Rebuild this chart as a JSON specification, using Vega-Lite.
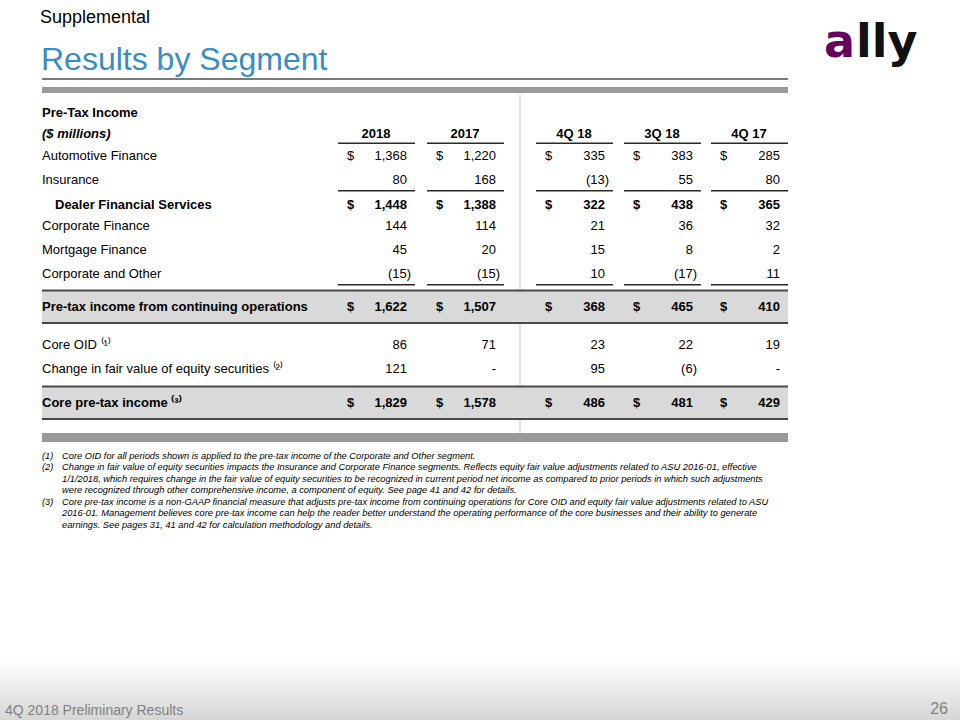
{
  "$schema": "https://vega.github.io/schema/vega-lite/v6.json",
  "width": 960,
  "height": 720,
  "padding": 0,
  "autosize": {"type": "none"},
  "background": "#ffffff",
  "config": {
    "view": {"stroke": null},
    "axis": {"disable": true},
    "text": {"font": "Liberation Sans", "baseline": "alphabetic", "color": "#000000"}
  },
  "datasets": {
    "rows": [
      {"line": 0, "label": "Pre-Tax Income", "kind": "heading"},
      {"line": 1, "label": "($ millions)", "kind": "unit"},
      {"line": 2, "label": "Automotive Finance", "kind": "item"},
      {"line": 3, "label": "Insurance", "kind": "item"},
      {"line": 4, "label": "Dealer Financial Services", "kind": "subtotal"},
      {"line": 5, "label": "Corporate Finance", "kind": "item"},
      {"line": 6, "label": "Mortgage Finance", "kind": "item"},
      {"line": 7, "label": "Corporate and Other", "kind": "item"},
      {"line": 8, "label": "Pre-tax income from continuing operations", "kind": "total"},
      {"line": 9, "label": "Core OID ⁽¹⁾", "kind": "item"},
      {"line": 10, "label": "Change in fair value of equity securities ⁽²⁾", "kind": "item"},
      {"line": 11, "label": "Core pre-tax income ⁽³⁾", "kind": "total"}
    ],
    "cells": [
      {"line": 2, "row": "Automotive Finance", "period": "2018", "col": 1, "amount": 1368, "currency": "$", "kind": "item"},
      {"line": 2, "row": "Automotive Finance", "period": "2017", "col": 2, "amount": 1220, "currency": "$", "kind": "item"},
      {"line": 2, "row": "Automotive Finance", "period": "4Q 18", "col": 3, "amount": 335, "currency": "$", "kind": "item"},
      {"line": 2, "row": "Automotive Finance", "period": "3Q 18", "col": 4, "amount": 383, "currency": "$", "kind": "item"},
      {"line": 2, "row": "Automotive Finance", "period": "4Q 17", "col": 5, "amount": 285, "currency": "$", "kind": "item"},
      {"line": 3, "row": "Insurance", "period": "2018", "col": 1, "amount": 80, "kind": "item"},
      {"line": 3, "row": "Insurance", "period": "2017", "col": 2, "amount": 168, "kind": "item"},
      {"line": 3, "row": "Insurance", "period": "4Q 18", "col": 3, "amount": -13, "kind": "item"},
      {"line": 3, "row": "Insurance", "period": "3Q 18", "col": 4, "amount": 55, "kind": "item"},
      {"line": 3, "row": "Insurance", "period": "4Q 17", "col": 5, "amount": 80, "kind": "item"},
      {"line": 4, "row": "Dealer Financial Services", "period": "2018", "col": 1, "amount": 1448, "currency": "$", "kind": "subtotal"},
      {"line": 4, "row": "Dealer Financial Services", "period": "2017", "col": 2, "amount": 1388, "currency": "$", "kind": "subtotal"},
      {"line": 4, "row": "Dealer Financial Services", "period": "4Q 18", "col": 3, "amount": 322, "currency": "$", "kind": "subtotal"},
      {"line": 4, "row": "Dealer Financial Services", "period": "3Q 18", "col": 4, "amount": 438, "currency": "$", "kind": "subtotal"},
      {"line": 4, "row": "Dealer Financial Services", "period": "4Q 17", "col": 5, "amount": 365, "currency": "$", "kind": "subtotal"},
      {"line": 5, "row": "Corporate Finance", "period": "2018", "col": 1, "amount": 144, "kind": "item"},
      {"line": 5, "row": "Corporate Finance", "period": "2017", "col": 2, "amount": 114, "kind": "item"},
      {"line": 5, "row": "Corporate Finance", "period": "4Q 18", "col": 3, "amount": 21, "kind": "item"},
      {"line": 5, "row": "Corporate Finance", "period": "3Q 18", "col": 4, "amount": 36, "kind": "item"},
      {"line": 5, "row": "Corporate Finance", "period": "4Q 17", "col": 5, "amount": 32, "kind": "item"},
      {"line": 6, "row": "Mortgage Finance", "period": "2018", "col": 1, "amount": 45, "kind": "item"},
      {"line": 6, "row": "Mortgage Finance", "period": "2017", "col": 2, "amount": 20, "kind": "item"},
      {"line": 6, "row": "Mortgage Finance", "period": "4Q 18", "col": 3, "amount": 15, "kind": "item"},
      {"line": 6, "row": "Mortgage Finance", "period": "3Q 18", "col": 4, "amount": 8, "kind": "item"},
      {"line": 6, "row": "Mortgage Finance", "period": "4Q 17", "col": 5, "amount": 2, "kind": "item"},
      {"line": 7, "row": "Corporate and Other", "period": "2018", "col": 1, "amount": -15, "kind": "item"},
      {"line": 7, "row": "Corporate and Other", "period": "2017", "col": 2, "amount": -15, "kind": "item"},
      {"line": 7, "row": "Corporate and Other", "period": "4Q 18", "col": 3, "amount": 10, "kind": "item"},
      {"line": 7, "row": "Corporate and Other", "period": "3Q 18", "col": 4, "amount": -17, "kind": "item"},
      {"line": 7, "row": "Corporate and Other", "period": "4Q 17", "col": 5, "amount": 11, "kind": "item"},
      {"line": 8, "row": "Pre-tax income from continuing operations", "period": "2018", "col": 1, "amount": 1622, "currency": "$", "kind": "total"},
      {"line": 8, "row": "Pre-tax income from continuing operations", "period": "2017", "col": 2, "amount": 1507, "currency": "$", "kind": "total"},
      {"line": 8, "row": "Pre-tax income from continuing operations", "period": "4Q 18", "col": 3, "amount": 368, "currency": "$", "kind": "total"},
      {"line": 8, "row": "Pre-tax income from continuing operations", "period": "3Q 18", "col": 4, "amount": 465, "currency": "$", "kind": "total"},
      {"line": 8, "row": "Pre-tax income from continuing operations", "period": "4Q 17", "col": 5, "amount": 410, "currency": "$", "kind": "total"},
      {"line": 9, "row": "Core OID", "period": "2018", "col": 1, "amount": 86, "kind": "item"},
      {"line": 9, "row": "Core OID", "period": "2017", "col": 2, "amount": 71, "kind": "item"},
      {"line": 9, "row": "Core OID", "period": "4Q 18", "col": 3, "amount": 23, "kind": "item"},
      {"line": 9, "row": "Core OID", "period": "3Q 18", "col": 4, "amount": 22, "kind": "item"},
      {"line": 9, "row": "Core OID", "period": "4Q 17", "col": 5, "amount": 19, "kind": "item"},
      {"line": 10, "row": "Change in fair value of equity securities", "period": "2018", "col": 1, "amount": 121, "kind": "item"},
      {"line": 10, "row": "Change in fair value of equity securities", "period": "2017", "col": 2, "amount": 0, "kind": "item"},
      {"line": 10, "row": "Change in fair value of equity securities", "period": "4Q 18", "col": 3, "amount": 95, "kind": "item"},
      {"line": 10, "row": "Change in fair value of equity securities", "period": "3Q 18", "col": 4, "amount": -6, "kind": "item"},
      {"line": 10, "row": "Change in fair value of equity securities", "period": "4Q 17", "col": 5, "amount": 0, "kind": "item"},
      {"line": 11, "row": "Core pre-tax income", "period": "2018", "col": 1, "amount": 1829, "currency": "$", "kind": "total"},
      {"line": 11, "row": "Core pre-tax income", "period": "2017", "col": 2, "amount": 1578, "currency": "$", "kind": "total"},
      {"line": 11, "row": "Core pre-tax income", "period": "4Q 18", "col": 3, "amount": 486, "currency": "$", "kind": "total"},
      {"line": 11, "row": "Core pre-tax income", "period": "3Q 18", "col": 4, "amount": 481, "currency": "$", "kind": "total"},
      {"line": 11, "row": "Core pre-tax income", "period": "4Q 17", "col": 5, "amount": 429, "currency": "$", "kind": "total"}
    ],
    "notes": [
      {"line": 12, "marker": "(1)", "text": "Core OID for all periods shown is applied to the pre-tax income of the Corporate and Other segment."},
      {"line": 13, "marker": "(2)", "text": "Change in fair value of equity securities impacts the Insurance and Corporate Finance segments. Reflects equity fair value adjustments related to ASU 2016-01, effective"},
      {"line": 14, "marker": "", "text": "1/1/2018, which requires change in the fair value of equity securities to be recognized in current period net income as compared to prior periods in which such adjustments"},
      {"line": 15, "marker": "", "text": "were recognized through other comprehensive income, a component of equity. See page 41 and 42 for details."},
      {"line": 16, "marker": "(3)", "text": "Core pre-tax income is a non-GAAP financial measure that adjusts pre-tax income from continuing operations for Core OID and equity fair value adjustments related to ASU"},
      {"line": 17, "marker": "", "text": "2016-01. Management believes core pre-tax income can help the reader better understand the operating performance of the core businesses and their ability to generate"},
      {"line": 18, "marker": "", "text": "earnings. See pages 31, 41 and 42 for calculation methodology and details."}
    ]
  },
  "layer": [
    {
      "data": {"values": [{}]},
      "mark": {"type": "rect", "fill": {"gradient": "linear", "x1": 0, "y1": 0, "x2": 0, "y2": 1, "stops": [{"offset": 0, "color": "#ffffff"}, {"offset": 1, "color": "#d6d6d6"}]}},
      "encoding": {
        "x": {"datum": -2, "type": "quantitative", "scale": {"domain": [-2,-1,0,1,2,3,4,5,6,7], "range": [0,5,42,407,496,605,693,780,948,960], "nice": false, "zero": false}},
        "x2": {"datum": 7},
        "y": {"datum": 19, "type": "quantitative", "scale": {"domain": [-4,-3,-2,-1,0,1,2,3,4,5,6,7,8,9,10,11,12,13,14,15,16,17,18,19,20,21], "range": [0,23,57,70,117,138,160,184,209,230,254,278,311,349,373,407,458.5,470,481.5,493,504.5,516,527.5,660,715,720], "nice": false, "zero": false}},
        "y2": {"datum": 21}
      }
    },
    {
      "data": {"values": [{}]},
      "mark": {"type": "rect", "color": "#e2e2e2", "xOffset": 23, "x2Offset": 25, "yOffset": -22, "y2Offset": 26},
      "encoding": {
        "x": {"datum": 2, "type": "quantitative", "scale": {"domain": [-2,-1,0,1,2,3,4,5,6,7], "range": [0,5,42,407,496,605,693,780,948,960], "nice": false, "zero": false}},
        "x2": {"datum": 2},
        "y": {"datum": 0, "type": "quantitative", "scale": {"domain": [-4,-3,-2,-1,0,1,2,3,4,5,6,7,8,9,10,11,12,13,14,15,16,17,18,19,20,21], "range": [0,23,57,70,117,138,160,184,209,230,254,278,311,349,373,407,458.5,470,481.5,493,504.5,516,527.5,660,715,720], "nice": false, "zero": false}},
        "y2": {"datum": 11}
      }
    },
    {
      "data": {"name": "rows"},
      "transform": [{"filter": "datum.kind === 'total'"}],
      "mark": {"type": "rect", "color": "#d9d9d9", "x2Offset": 8, "yOffset": -21, "y2Offset": 12},
      "encoding": {
        "x": {"datum": 0, "type": "quantitative", "scale": {"domain": [-2,-1,0,1,2,3,4,5,6,7], "range": [0,5,42,407,496,605,693,780,948,960], "nice": false, "zero": false}},
        "x2": {"datum": 5},
        "y": {"field": "line", "type": "quantitative", "scale": {"domain": [-4,-3,-2,-1,0,1,2,3,4,5,6,7,8,9,10,11,12,13,14,15,16,17,18,19,20,21], "range": [0,23,57,70,117,138,160,184,209,230,254,278,311,349,373,407,458.5,470,481.5,493,504.5,516,527.5,660,715,720], "nice": false, "zero": false}},
        "y2": {"field": "line"}
      }
    },
    {
      "data": {"name": "rows"},
      "transform": [{"filter": "datum.kind === 'total'"}],
      "mark": {"type": "rect", "color": "#4a4a4a", "x2Offset": 8, "yOffset": -21.5, "y2Offset": -19.5},
      "encoding": {
        "x": {"datum": 0, "type": "quantitative", "scale": {"domain": [-2,-1,0,1,2,3,4,5,6,7], "range": [0,5,42,407,496,605,693,780,948,960], "nice": false, "zero": false}},
        "x2": {"datum": 5},
        "y": {"field": "line", "type": "quantitative", "scale": {"domain": [-4,-3,-2,-1,0,1,2,3,4,5,6,7,8,9,10,11,12,13,14,15,16,17,18,19,20,21], "range": [0,23,57,70,117,138,160,184,209,230,254,278,311,349,373,407,458.5,470,481.5,493,504.5,516,527.5,660,715,720], "nice": false, "zero": false}},
        "y2": {"field": "line"}
      }
    },
    {
      "data": {"name": "rows"},
      "transform": [{"filter": "datum.kind === 'total'"}],
      "mark": {"type": "rect", "color": "#4a4a4a", "x2Offset": 8, "yOffset": 11, "y2Offset": 13},
      "encoding": {
        "x": {"datum": 0, "type": "quantitative", "scale": {"domain": [-2,-1,0,1,2,3,4,5,6,7], "range": [0,5,42,407,496,605,693,780,948,960], "nice": false, "zero": false}},
        "x2": {"datum": 5},
        "y": {"field": "line", "type": "quantitative", "scale": {"domain": [-4,-3,-2,-1,0,1,2,3,4,5,6,7,8,9,10,11,12,13,14,15,16,17,18,19,20,21], "range": [0,23,57,70,117,138,160,184,209,230,254,278,311,349,373,407,458.5,470,481.5,493,504.5,516,527.5,660,715,720], "nice": false, "zero": false}},
        "y2": {"field": "line"}
      }
    },
    {
      "data": {"values": [{}]},
      "mark": {"type": "rect", "color": "#7a7a7a", "x2Offset": 8, "yOffset": 8, "y2Offset": 10},
      "encoding": {
        "x": {"datum": 0, "type": "quantitative", "scale": {"domain": [-2,-1,0,1,2,3,4,5,6,7], "range": [0,5,42,407,496,605,693,780,948,960], "nice": false, "zero": false}},
        "x2": {"datum": 5},
        "y": {"datum": -1, "type": "quantitative", "scale": {"domain": [-4,-3,-2,-1,0,1,2,3,4,5,6,7,8,9,10,11,12,13,14,15,16,17,18,19,20,21], "range": [0,23,57,70,117,138,160,184,209,230,254,278,311,349,373,407,458.5,470,481.5,493,504.5,516,527.5,660,715,720], "nice": false, "zero": false}},
        "y2": {"datum": -1}
      }
    },
    {
      "data": {"values": [{}]},
      "mark": {"type": "rect", "color": "#9a9a9a", "x2Offset": 8, "yOffset": 17, "y2Offset": 23},
      "encoding": {
        "x": {"datum": 0, "type": "quantitative", "scale": {"domain": [-2,-1,0,1,2,3,4,5,6,7], "range": [0,5,42,407,496,605,693,780,948,960], "nice": false, "zero": false}},
        "x2": {"datum": 5},
        "y": {"datum": -1, "type": "quantitative", "scale": {"domain": [-4,-3,-2,-1,0,1,2,3,4,5,6,7,8,9,10,11,12,13,14,15,16,17,18,19,20,21], "range": [0,23,57,70,117,138,160,184,209,230,254,278,311,349,373,407,458.5,470,481.5,493,504.5,516,527.5,660,715,720], "nice": false, "zero": false}},
        "y2": {"datum": -1}
      }
    },
    {
      "data": {"values": [{}]},
      "mark": {"type": "rect", "color": "#9a9a9a", "x2Offset": 8, "yOffset": 26, "y2Offset": 35},
      "encoding": {
        "x": {"datum": 0, "type": "quantitative", "scale": {"domain": [-2,-1,0,1,2,3,4,5,6,7], "range": [0,5,42,407,496,605,693,780,948,960], "nice": false, "zero": false}},
        "x2": {"datum": 5},
        "y": {"datum": 11, "type": "quantitative", "scale": {"domain": [-4,-3,-2,-1,0,1,2,3,4,5,6,7,8,9,10,11,12,13,14,15,16,17,18,19,20,21], "range": [0,23,57,70,117,138,160,184,209,230,254,278,311,349,373,407,458.5,470,481.5,493,504.5,516,527.5,660,715,720], "nice": false, "zero": false}},
        "y2": {"datum": 11}
      }
    },
    {
      "data": {"name": "cells"},
      "transform": [{"filter": "datum.line === 2"}],
      "mark": {"type": "rect", "color": "#2a2a2a", "xOffset": -69, "x2Offset": 8, "yOffset": 4.5, "y2Offset": 6},
      "encoding": {
        "x": {"field": "col", "type": "quantitative", "scale": {"domain": [-2,-1,0,1,2,3,4,5,6,7], "range": [0,5,42,407,496,605,693,780,948,960], "nice": false, "zero": false}},
        "x2": {"field": "col"},
        "y": {"datum": 1, "type": "quantitative", "scale": {"domain": [-4,-3,-2,-1,0,1,2,3,4,5,6,7,8,9,10,11,12,13,14,15,16,17,18,19,20,21], "range": [0,23,57,70,117,138,160,184,209,230,254,278,311,349,373,407,458.5,470,481.5,493,504.5,516,527.5,660,715,720], "nice": false, "zero": false}},
        "y2": {"datum": 1}
      }
    },
    {
      "data": {"name": "cells"},
      "transform": [{"filter": "datum.row === 'Insurance' || datum.row === 'Corporate and Other'"}],
      "mark": {"type": "rect", "color": "#2a2a2a", "xOffset": -69, "x2Offset": 8, "yOffset": 6, "y2Offset": 7.5},
      "encoding": {
        "x": {"field": "col", "type": "quantitative", "scale": {"domain": [-2,-1,0,1,2,3,4,5,6,7], "range": [0,5,42,407,496,605,693,780,948,960], "nice": false, "zero": false}},
        "x2": {"field": "col"},
        "y": {"field": "line", "type": "quantitative", "scale": {"domain": [-4,-3,-2,-1,0,1,2,3,4,5,6,7,8,9,10,11,12,13,14,15,16,17,18,19,20,21], "range": [0,23,57,70,117,138,160,184,209,230,254,278,311,349,373,407,458.5,470,481.5,493,504.5,516,527.5,660,715,720], "nice": false, "zero": false}},
        "y2": {"field": "line"}
      }
    },
    {
      "data": {"name": "rows"},
      "transform": [{"filter": "datum.kind === 'item'"}],
      "mark": {"type": "text", "align": "left", "fontSize": 13},
      "encoding": {
        "x": {"datum": 0, "type": "quantitative", "scale": {"domain": [-2,-1,0,1,2,3,4,5,6,7], "range": [0,5,42,407,496,605,693,780,948,960], "nice": false, "zero": false}},
        "y": {"field": "line", "type": "quantitative", "scale": {"domain": [-4,-3,-2,-1,0,1,2,3,4,5,6,7,8,9,10,11,12,13,14,15,16,17,18,19,20,21], "range": [0,23,57,70,117,138,160,184,209,230,254,278,311,349,373,407,458.5,470,481.5,493,504.5,516,527.5,660,715,720], "nice": false, "zero": false}},
        "text": {"field": "label"}
      }
    },
    {
      "data": {"name": "rows"},
      "transform": [{"filter": "datum.kind === 'heading' || datum.kind === 'total'"}],
      "mark": {"type": "text", "align": "left", "fontSize": 13, "fontWeight": "bold"},
      "encoding": {
        "x": {"datum": 0, "type": "quantitative", "scale": {"domain": [-2,-1,0,1,2,3,4,5,6,7], "range": [0,5,42,407,496,605,693,780,948,960], "nice": false, "zero": false}},
        "y": {"field": "line", "type": "quantitative", "scale": {"domain": [-4,-3,-2,-1,0,1,2,3,4,5,6,7,8,9,10,11,12,13,14,15,16,17,18,19,20,21], "range": [0,23,57,70,117,138,160,184,209,230,254,278,311,349,373,407,458.5,470,481.5,493,504.5,516,527.5,660,715,720], "nice": false, "zero": false}},
        "text": {"field": "label"}
      }
    },
    {
      "data": {"name": "rows"},
      "transform": [{"filter": "datum.kind === 'unit'"}],
      "mark": {"type": "text", "align": "left", "fontSize": 13, "fontWeight": "bold", "fontStyle": "italic"},
      "encoding": {
        "x": {"datum": 0, "type": "quantitative", "scale": {"domain": [-2,-1,0,1,2,3,4,5,6,7], "range": [0,5,42,407,496,605,693,780,948,960], "nice": false, "zero": false}},
        "y": {"field": "line", "type": "quantitative", "scale": {"domain": [-4,-3,-2,-1,0,1,2,3,4,5,6,7,8,9,10,11,12,13,14,15,16,17,18,19,20,21], "range": [0,23,57,70,117,138,160,184,209,230,254,278,311,349,373,407,458.5,470,481.5,493,504.5,516,527.5,660,715,720], "nice": false, "zero": false}},
        "text": {"field": "label"}
      }
    },
    {
      "data": {"name": "rows"},
      "transform": [{"filter": "datum.kind === 'subtotal'"}],
      "mark": {"type": "text", "align": "left", "fontSize": 13, "fontWeight": "bold", "dx": 13},
      "encoding": {
        "x": {"datum": 0, "type": "quantitative", "scale": {"domain": [-2,-1,0,1,2,3,4,5,6,7], "range": [0,5,42,407,496,605,693,780,948,960], "nice": false, "zero": false}},
        "y": {"field": "line", "type": "quantitative", "scale": {"domain": [-4,-3,-2,-1,0,1,2,3,4,5,6,7,8,9,10,11,12,13,14,15,16,17,18,19,20,21], "range": [0,23,57,70,117,138,160,184,209,230,254,278,311,349,373,407,458.5,470,481.5,493,504.5,516,527.5,660,715,720], "nice": false, "zero": false}},
        "text": {"field": "label"}
      }
    },
    {
      "data": {"name": "cells"},
      "transform": [{"filter": "datum.kind === 'item' && datum.amount >= 0"}],
      "mark": {"type": "text", "align": "right", "fontSize": 13},
      "encoding": {
        "x": {"field": "col", "type": "quantitative", "scale": {"domain": [-2,-1,0,1,2,3,4,5,6,7], "range": [0,5,42,407,496,605,693,780,948,960], "nice": false, "zero": false}},
        "y": {"field": "line", "type": "quantitative", "scale": {"domain": [-4,-3,-2,-1,0,1,2,3,4,5,6,7,8,9,10,11,12,13,14,15,16,17,18,19,20,21], "range": [0,23,57,70,117,138,160,184,209,230,254,278,311,349,373,407,458.5,470,481.5,493,504.5,516,527.5,660,715,720], "nice": false, "zero": false}},
        "text": {"condition": {"test": "datum.amount === 0", "value": "-"}, "field": "amount", "type": "quantitative", "format": "(,"}
      }
    },
    {
      "data": {"name": "cells"},
      "transform": [{"filter": "datum.kind === 'item' && datum.amount < 0"}],
      "mark": {"type": "text", "align": "right", "fontSize": 13, "dx": 4},
      "encoding": {
        "x": {"field": "col", "type": "quantitative", "scale": {"domain": [-2,-1,0,1,2,3,4,5,6,7], "range": [0,5,42,407,496,605,693,780,948,960], "nice": false, "zero": false}},
        "y": {"field": "line", "type": "quantitative", "scale": {"domain": [-4,-3,-2,-1,0,1,2,3,4,5,6,7,8,9,10,11,12,13,14,15,16,17,18,19,20,21], "range": [0,23,57,70,117,138,160,184,209,230,254,278,311,349,373,407,458.5,470,481.5,493,504.5,516,527.5,660,715,720], "nice": false, "zero": false}},
        "text": {"field": "amount", "type": "quantitative", "format": "(,"}
      }
    },
    {
      "data": {"name": "cells"},
      "transform": [{"filter": "datum.kind !== 'item'"}],
      "mark": {"type": "text", "align": "right", "fontSize": 13, "fontWeight": "bold"},
      "encoding": {
        "x": {"field": "col", "type": "quantitative", "scale": {"domain": [-2,-1,0,1,2,3,4,5,6,7], "range": [0,5,42,407,496,605,693,780,948,960], "nice": false, "zero": false}},
        "y": {"field": "line", "type": "quantitative", "scale": {"domain": [-4,-3,-2,-1,0,1,2,3,4,5,6,7,8,9,10,11,12,13,14,15,16,17,18,19,20,21], "range": [0,23,57,70,117,138,160,184,209,230,254,278,311,349,373,407,458.5,470,481.5,493,504.5,516,527.5,660,715,720], "nice": false, "zero": false}},
        "text": {"field": "amount", "type": "quantitative", "format": "(,"}
      }
    },
    {
      "data": {"name": "cells"},
      "transform": [{"filter": "datum.currency === '$' && datum.kind === 'item'"}],
      "mark": {"type": "text", "align": "left", "fontSize": 13, "dx": -60},
      "encoding": {
        "x": {"field": "col", "type": "quantitative", "scale": {"domain": [-2,-1,0,1,2,3,4,5,6,7], "range": [0,5,42,407,496,605,693,780,948,960], "nice": false, "zero": false}},
        "y": {"field": "line", "type": "quantitative", "scale": {"domain": [-4,-3,-2,-1,0,1,2,3,4,5,6,7,8,9,10,11,12,13,14,15,16,17,18,19,20,21], "range": [0,23,57,70,117,138,160,184,209,230,254,278,311,349,373,407,458.5,470,481.5,493,504.5,516,527.5,660,715,720], "nice": false, "zero": false}},
        "text": {"field": "currency"}
      }
    },
    {
      "data": {"name": "cells"},
      "transform": [{"filter": "datum.currency === '$' && datum.kind !== 'item'"}],
      "mark": {"type": "text", "align": "left", "fontSize": 13, "fontWeight": "bold", "dx": -60},
      "encoding": {
        "x": {"field": "col", "type": "quantitative", "scale": {"domain": [-2,-1,0,1,2,3,4,5,6,7], "range": [0,5,42,407,496,605,693,780,948,960], "nice": false, "zero": false}},
        "y": {"field": "line", "type": "quantitative", "scale": {"domain": [-4,-3,-2,-1,0,1,2,3,4,5,6,7,8,9,10,11,12,13,14,15,16,17,18,19,20,21], "range": [0,23,57,70,117,138,160,184,209,230,254,278,311,349,373,407,458.5,470,481.5,493,504.5,516,527.5,660,715,720], "nice": false, "zero": false}},
        "text": {"field": "currency"}
      }
    },
    {
      "data": {"name": "cells"},
      "transform": [{"filter": "datum.line === 2"}],
      "mark": {"type": "text", "align": "center", "fontSize": 13, "fontWeight": "bold", "dx": -31},
      "encoding": {
        "x": {"field": "col", "type": "quantitative", "scale": {"domain": [-2,-1,0,1,2,3,4,5,6,7], "range": [0,5,42,407,496,605,693,780,948,960], "nice": false, "zero": false}},
        "y": {"datum": 1, "type": "quantitative", "scale": {"domain": [-4,-3,-2,-1,0,1,2,3,4,5,6,7,8,9,10,11,12,13,14,15,16,17,18,19,20,21], "range": [0,23,57,70,117,138,160,184,209,230,254,278,311,349,373,407,458.5,470,481.5,493,504.5,516,527.5,660,715,720], "nice": false, "zero": false}},
        "text": {"field": "period"}
      }
    },
    {
      "data": {"name": "notes"},
      "mark": {"type": "text", "align": "left", "fontSize": 9.3, "fontStyle": "italic"},
      "encoding": {
        "x": {"datum": 0, "type": "quantitative", "scale": {"domain": [-2,-1,0,1,2,3,4,5,6,7], "range": [0,5,42,407,496,605,693,780,948,960], "nice": false, "zero": false}},
        "y": {"field": "line", "type": "quantitative", "scale": {"domain": [-4,-3,-2,-1,0,1,2,3,4,5,6,7,8,9,10,11,12,13,14,15,16,17,18,19,20,21], "range": [0,23,57,70,117,138,160,184,209,230,254,278,311,349,373,407,458.5,470,481.5,493,504.5,516,527.5,660,715,720], "nice": false, "zero": false}},
        "text": {"field": "marker"}
      }
    },
    {
      "data": {"name": "notes"},
      "mark": {"type": "text", "align": "left", "fontSize": 9.3, "fontStyle": "italic", "dx": 20},
      "encoding": {
        "x": {"datum": 0, "type": "quantitative", "scale": {"domain": [-2,-1,0,1,2,3,4,5,6,7], "range": [0,5,42,407,496,605,693,780,948,960], "nice": false, "zero": false}},
        "y": {"field": "line", "type": "quantitative", "scale": {"domain": [-4,-3,-2,-1,0,1,2,3,4,5,6,7,8,9,10,11,12,13,14,15,16,17,18,19,20,21], "range": [0,23,57,70,117,138,160,184,209,230,254,278,311,349,373,407,458.5,470,481.5,493,504.5,516,527.5,660,715,720], "nice": false, "zero": false}},
        "text": {"field": "text"}
      }
    },
    {
      "data": {"values": [{"t": "Supplemental"}]},
      "mark": {"type": "text", "align": "left", "fontSize": 18, "dx": -2},
      "encoding": {
        "x": {"datum": 0, "type": "quantitative", "scale": {"domain": [-2,-1,0,1,2,3,4,5,6,7], "range": [0,5,42,407,496,605,693,780,948,960], "nice": false, "zero": false}},
        "y": {"datum": -3, "type": "quantitative", "scale": {"domain": [-4,-3,-2,-1,0,1,2,3,4,5,6,7,8,9,10,11,12,13,14,15,16,17,18,19,20,21], "range": [0,23,57,70,117,138,160,184,209,230,254,278,311,349,373,407,458.5,470,481.5,493,504.5,516,527.5,660,715,720], "nice": false, "zero": false}},
        "text": {"field": "t"}
      }
    },
    {
      "data": {"values": [{"t": "Results by Segment"}]},
      "mark": {"type": "text", "align": "left", "fontSize": 32, "color": "#3a8dc4", "dx": -1},
      "encoding": {
        "x": {"datum": 0, "type": "quantitative", "scale": {"domain": [-2,-1,0,1,2,3,4,5,6,7], "range": [0,5,42,407,496,605,693,780,948,960], "nice": false, "zero": false}},
        "y": {"datum": -1, "type": "quantitative", "scale": {"domain": [-4,-3,-2,-1,0,1,2,3,4,5,6,7,8,9,10,11,12,13,14,15,16,17,18,19,20,21], "range": [0,23,57,70,117,138,160,184,209,230,254,278,311,349,373,407,458.5,470,481.5,493,504.5,516,527.5,660,715,720], "nice": false, "zero": false}},
        "text": {"field": "t"}
      }
    },
    {
      "data": {"values": [{"t": "a"}]},
      "mark": {"type": "text", "align": "left", "fontSize": 46, "font": "DejaVu Sans", "fontWeight": "bold", "color": "#66005f", "dx": 44},
      "encoding": {
        "x": {"datum": 5, "type": "quantitative", "scale": {"domain": [-2,-1,0,1,2,3,4,5,6,7], "range": [0,5,42,407,496,605,693,780,948,960], "nice": false, "zero": false}},
        "y": {"datum": -2, "type": "quantitative", "scale": {"domain": [-4,-3,-2,-1,0,1,2,3,4,5,6,7,8,9,10,11,12,13,14,15,16,17,18,19,20,21], "range": [0,23,57,70,117,138,160,184,209,230,254,278,311,349,373,407,458.5,470,481.5,493,504.5,516,527.5,660,715,720], "nice": false, "zero": false}},
        "text": {"field": "t"}
      }
    },
    {
      "data": {"values": [{"t": "lly"}]},
      "mark": {"type": "text", "align": "left", "fontSize": 46, "font": "DejaVu Sans", "fontWeight": "bold", "color": "#111111", "dx": 76},
      "encoding": {
        "x": {"datum": 5, "type": "quantitative", "scale": {"domain": [-2,-1,0,1,2,3,4,5,6,7], "range": [0,5,42,407,496,605,693,780,948,960], "nice": false, "zero": false}},
        "y": {"datum": -2, "type": "quantitative", "scale": {"domain": [-4,-3,-2,-1,0,1,2,3,4,5,6,7,8,9,10,11,12,13,14,15,16,17,18,19,20,21], "range": [0,23,57,70,117,138,160,184,209,230,254,278,311,349,373,407,458.5,470,481.5,493,504.5,516,527.5,660,715,720], "nice": false, "zero": false}},
        "text": {"field": "t"}
      }
    },
    {
      "data": {"values": [{"t": "4Q 2018 Preliminary Results"}]},
      "mark": {"type": "text", "align": "left", "fontSize": 14, "color": "#808080"},
      "encoding": {
        "x": {"datum": -1, "type": "quantitative", "scale": {"domain": [-2,-1,0,1,2,3,4,5,6,7], "range": [0,5,42,407,496,605,693,780,948,960], "nice": false, "zero": false}},
        "y": {"datum": 20, "type": "quantitative", "scale": {"domain": [-4,-3,-2,-1,0,1,2,3,4,5,6,7,8,9,10,11,12,13,14,15,16,17,18,19,20,21], "range": [0,23,57,70,117,138,160,184,209,230,254,278,311,349,373,407,458.5,470,481.5,493,504.5,516,527.5,660,715,720], "nice": false, "zero": false}},
        "text": {"field": "t"}
      }
    },
    {
      "data": {"values": [{"t": "26"}]},
      "mark": {"type": "text", "align": "right", "fontSize": 16, "color": "#808080", "dy": -1},
      "encoding": {
        "x": {"datum": 6, "type": "quantitative", "scale": {"domain": [-2,-1,0,1,2,3,4,5,6,7], "range": [0,5,42,407,496,605,693,780,948,960], "nice": false, "zero": false}},
        "y": {"datum": 20, "type": "quantitative", "scale": {"domain": [-4,-3,-2,-1,0,1,2,3,4,5,6,7,8,9,10,11,12,13,14,15,16,17,18,19,20,21], "range": [0,23,57,70,117,138,160,184,209,230,254,278,311,349,373,407,458.5,470,481.5,493,504.5,516,527.5,660,715,720], "nice": false, "zero": false}},
        "text": {"field": "t"}
      }
    }
  ]
}
